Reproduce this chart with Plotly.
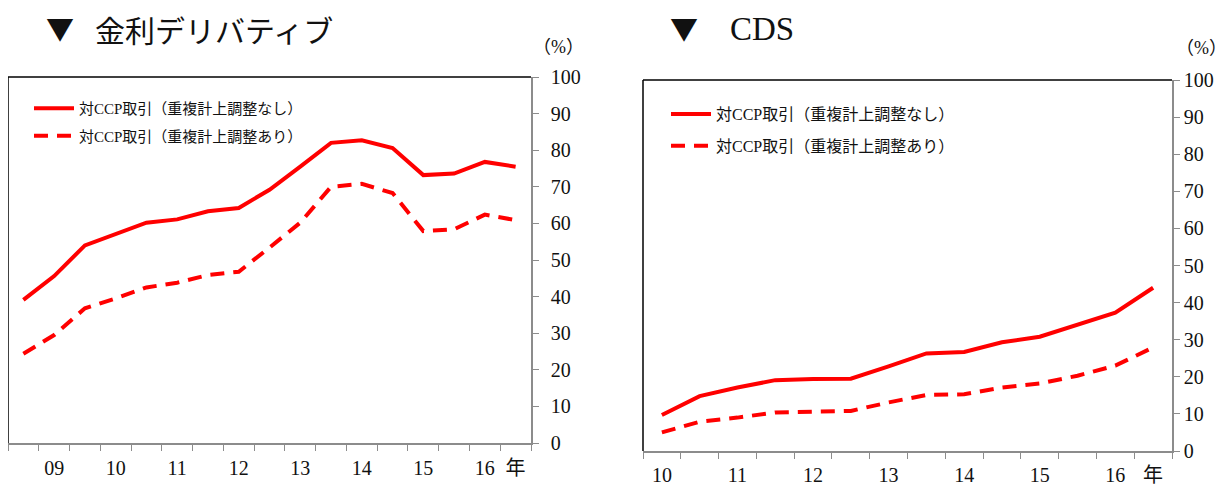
import plotly.graph_objects as go

# ---- data ----
ir_periods = ["08/12", "09/06", "09/12", "10/06", "10/12", "11/06", "11/12", "12/06", "12/12",
              "13/06", "13/12", "14/06", "14/12", "15/06", "15/12", "16/06", "16/12"]
ir_gross = [39.1, 45.6, 54.0, 57.0, 60.2, 61.1, 63.3, 64.2, 69.2, 75.5, 82.0, 82.7, 80.6, 73.2, 73.6, 76.8, 75.5]
ir_adj = [24.4, 29.5, 36.8, 39.5, 42.5, 43.8, 45.9, 46.8, 53.4, 60.2, 70.0, 70.8, 68.3, 57.9, 58.4, 62.4, 60.9]
ir_ticktext = ["09", "10", "11", "12", "13", "14", "15", "16", "年"]
ir_tickidx = [1, 3, 5, 7, 9, 11, 13, 15, 16]

cds_periods = ["10/06", "10/12", "11/06", "11/12", "12/06", "12/12", "13/06",
               "13/12", "14/06", "14/12", "15/06", "15/12", "16/06", "16/12"]
cds_gross = [9.7, 14.8, 17.1, 19.1, 19.4, 19.5, 22.8, 26.3, 26.7, 29.3, 30.8, 34.1, 37.3, 44.0]
cds_adj = [5.0, 7.9, 9.0, 10.4, 10.6, 10.8, 13.1, 15.1, 15.3, 17.1, 18.2, 20.3, 23.0, 27.9]
cds_ticktext = ["10", "11", "12", "13", "14", "15", "16", "年"]
cds_tickidx = [0, 2, 4, 6, 8, 10, 12, 13]

name_gross = "対CCP取引（重複計上調整なし）"
name_adj = "対CCP取引（重複計上調整あり）"

FONT = "Liberation Serif, 'Noto Sans CJK JP', serif"
RED = "#FF0000"
GRAY = "#8c8c8c"
W, H = 1226, 486
OFF = 8  # page body margin

def px_x(v):
    return (v - OFF) / W

def px_y(v):
    return 1 - (v - OFF) / H

fig = go.Figure()

def add_panel(periods, gross, adj, xa, ya, legend, tag):
    xs = list(range(len(periods)))
    fig.add_trace(go.Scatter(x=xs, y=gross, mode="lines", name=name_gross,
                             line=dict(color=RED, width=4), xaxis=xa, yaxis=ya,
                             legend=legend, legendgroup=tag + "g", hovertext=periods))
    fig.add_trace(go.Scatter(x=xs, y=adj, mode="lines", name=name_adj,
                             line=dict(color=RED, width=4, dash="14px,9px"),
                             xaxis=xa, yaxis=ya, legend=legend, legendgroup=tag + "a",
                             hovertext=periods))

add_panel(ir_periods, ir_gross, ir_adj, "x", "y", "legend", "ir")
add_panel(cds_periods, cds_gross, cds_adj, "x2", "y2", "legend2", "cds")

def xaxis_cfg(n, tickidx, ticktext, dom, anchor, standoff):
    return dict(
        domain=dom, anchor=anchor, range=[-0.5, n - 0.5], automargin=False,
        tickmode="array", tickvals=tickidx, ticktext=ticktext,
        ticks="", showgrid=False, zeroline=False, ticklabelstandoff=standoff,
        showline=True, linecolor=GRAY, linewidth=1.5,
        tickfont=dict(family=FONT, size=20, color="#111"),
        minor=dict(tickmode="array", tickvals=[i - 0.5 for i in range(n + 1)],
                   ticks="outside", ticklen=6, tickcolor=GRAY, tickwidth=1.2, showgrid=False),
        fixedrange=True,
    )

def yaxis_cfg(dom, anchor, standoff):
    return dict(
        domain=dom, anchor=anchor, side="right", range=[0, 100], automargin=False,
        tickmode="linear", tick0=0, dtick=10, ticklabelstandoff=standoff,
        ticks="outside", ticklen=6, tickcolor=GRAY, tickwidth=1.2,
        showline=True, linecolor=GRAY, linewidth=1.5,
        showgrid=False, zeroline=False,
        tickfont=dict(family=FONT, size=20, color="#111"),
        fixedrange=True,
    )

ir_xdom = [px_x(8), px_x(531)]
ir_ydom = [px_y(443), px_y(77)]
cds_xdom = [px_x(643), px_x(1172)]
cds_ydom = [px_y(451), px_y(80)]

fig.update_layout(
    width=W, height=H,
    margin=dict(l=0, r=0, t=0, b=0, autoexpand=False),
    paper_bgcolor="white", plot_bgcolor="white",
    font=dict(family=FONT, color="#111"),
    xaxis=xaxis_cfg(len(ir_periods), ir_tickidx, ir_ticktext, ir_xdom, "y", 6),
    yaxis=yaxis_cfg(ir_ydom, "x", 8),
    xaxis2=xaxis_cfg(len(cds_periods), cds_tickidx, cds_ticktext, cds_xdom, "y2", 5),
    yaxis2=yaxis_cfg(cds_ydom, "x2", 0),
    legend=dict(x=px_x(29), y=px_y(92), xanchor="left", yanchor="top",
                bgcolor="rgba(0,0,0,0)", font=dict(family=FONT, size=15, color="#111"),
                itemwidth=40, tracegroupgap=5),
    legend2=dict(x=px_x(666), y=px_y(97), xanchor="left", yanchor="top",
                 bgcolor="rgba(0,0,0,0)", font=dict(family=FONT, size=16, color="#111"),
                 itemwidth=40, tracegroupgap=8),
    showlegend=True,
)

# black top & left frame lines of each plot box
for xr, yr in (("x", "y"), ("x2", "y2")):
    fig.add_shape(type="line", xref=f"{xr} domain", yref=f"{yr} domain",
                  x0=0, x1=1, y0=1, y1=1, line=dict(color="black", width=1.5))
    fig.add_shape(type="line", xref=f"{xr} domain", yref=f"{yr} domain",
                  x0=0, x1=0, y0=0, y1=1, line=dict(color="black", width=1.5))

# titles and unit labels
TRI = dict(family="'Noto Sans CJK JP'", size=28, color="#111")
fig.add_annotation(text="▼", xref="paper", yref="paper",
                   x=px_x(44), y=px_y(28), xanchor="left", yanchor="middle",
                   showarrow=False, font=TRI)
fig.add_annotation(text="金利デリバティブ", xref="paper", yref="paper",
                   x=px_x(93), y=px_y(29), xanchor="left", yanchor="middle",
                   showarrow=False, font=dict(family="'Noto Sans CJK JP'", size=30, color="#111"))
fig.add_annotation(text="▼", xref="paper", yref="paper",
                   x=px_x(668), y=px_y(28), xanchor="left", yanchor="middle",
                   showarrow=False, font=TRI)
fig.add_annotation(text="CDS", xref="paper", yref="paper",
                   x=px_x(728), y=px_y(29), xanchor="left", yanchor="middle",
                   showarrow=False, font=dict(family="Liberation Serif", size=33, color="#111"))
fig.add_annotation(text="（%）", xref="paper", yref="paper",
                   x=px_x(558), y=px_y(47), xanchor="center", yanchor="middle",
                   showarrow=False, font=dict(family=FONT, size=18, color="#111"))
fig.add_annotation(text="（%）", xref="paper", yref="paper",
                   x=px_x(1201), y=px_y(48), xanchor="center", yanchor="middle",
                   showarrow=False, font=dict(family=FONT, size=18, color="#111"))

fig.write_html("out.html")
